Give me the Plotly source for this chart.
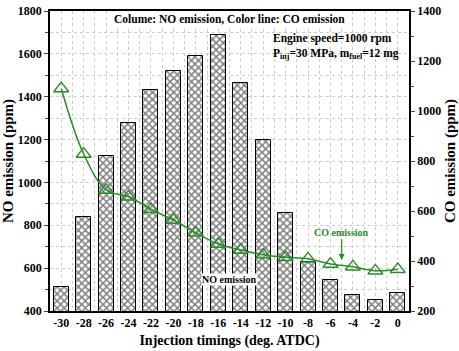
import plotly.graph_objects as go

timings = [-30, -28, -26, -24, -22, -20, -18, -16, -14, -12, -10, -8, -6, -4, -2, 0]
no_emission = [510, 840, 1125, 1276, 1431, 1520, 1591, 1686, 1462, 1198, 856, 630, 545, 473, 451, 483]
co_emission = [1090, 828, 684, 657, 607, 564, 513, 468, 444, 425, 415, 409, 388, 377, 361, 367]
x_ticks = list(range(-30, 1, 2))

FONT = "Liberation Serif"
GREEN = "#2a8a2a"

fig = go.Figure()
fig.add_trace(go.Bar(
    x=timings, y=no_emission, width=1.34, base=0,
    marker=dict(color="white", line=dict(color="black", width=1),
                pattern=dict(shape="x", fgcolor="black", bgcolor="white", size=5, solidity=0.5)),
    yaxis="y", showlegend=False,
))
fig.add_trace(go.Scatter(
    x=timings, y=co_emission, yaxis="y2", mode="lines+markers",
    line=dict(color=GREEN, width=1.5, shape="spline"),
    marker=dict(symbol="triangle-up-open", size=13, color=GREEN, line=dict(width=1.3, color=GREEN)),
    showlegend=False,
))

axfont = dict(family=FONT, size=12, color="black", weight="bold")
titlefont = dict(family=FONT, size=14, color="black", weight="bold")

fig.update_layout(
    width=459, height=351,
    margin=dict(l=50, r=50, t=11, b=40),
    plot_bgcolor="white", paper_bgcolor="white",
    bargap=0,
    xaxis=dict(
        range=[-31, 1], tickvals=x_ticks, ticktext=[str(v) for v in x_ticks],
        showline=True, linecolor="black", linewidth=1.5, mirror=True,
        ticks="", tickfont=axfont, automargin=False,
        showgrid=True, gridcolor="#cccccc", griddash="dot", gridwidth=1,
        minor=dict(dtick=1, tick0=0, showgrid=True, gridcolor="#cccccc", griddash="dot"),
        title=dict(text="Injection timings (deg. ATDC)", font=titlefont, standoff=6),
        zeroline=False,
    ),
    yaxis=dict(
        range=[400, 1800], dtick=200, tickfont=axfont, automargin=False,
        showline=True, linecolor="black", linewidth=1.5,
        ticks="outside", ticklen=4, tickwidth=1.2,
        showgrid=True, gridcolor="#cccccc", griddash="dot",
        minor=dict(dtick=100, ticks="outside", ticklen=3, showgrid=True, gridcolor="#cccccc", griddash="dot"),
        title=dict(text="NO emission (ppm)", font=dict(family=FONT, size=15, color="black", weight="bold"), standoff=3),
        zeroline=False,
    ),
    yaxis2=dict(
        range=[200, 1400], dtick=200, tickfont=axfont, overlaying="y", side="right", automargin=False,
        showline=True, linecolor="black", linewidth=1.5,
        ticks="outside", ticklen=4, tickwidth=1.2, showgrid=False,
        minor=dict(dtick=100, ticks="outside", ticklen=3),
        title=dict(text="CO emission (ppm)", font=dict(family=FONT, size=15, color="black", weight="bold"), standoff=5),
        zeroline=False,
    ),
    annotations=[
        dict(text="Colume: NO emission, Color line: CO emission", xref="paper", yref="paper",
             x=0.5, y=1.0, showarrow=False, bgcolor="white",
             font=dict(family=FONT, size=11.5, color="black", weight="bold"), borderpad=1),
        dict(text="Engine speed=1000 rpm<br>P<sub>inj</sub>=30 MPa, m<sub>fuel</sub>=12 mg",
             xref="paper", yref="paper", x=0.615, y=0.935, xanchor="left", yanchor="top",
             align="left", showarrow=False,
             font=dict(family=FONT, size=11.5, color="black", weight="bold")),
        dict(text="NO emission", x=-15, y=549, xref="x", yref="y", showarrow=False,
             bgcolor="white", borderpad=0,
             font=dict(family=FONT, size=10, color="black", weight="bold")),
        dict(text="CO emission", x=-5, y=404, xref="x", yref="y2", showarrow=True,
             arrowhead=2, arrowsize=1, arrowwidth=1.2, arrowcolor=GREEN, ax=0, ay=-28,
             font=dict(family=FONT, size=10, color=GREEN, weight="bold")),
    ],
)

fig.write_html("out.html")
